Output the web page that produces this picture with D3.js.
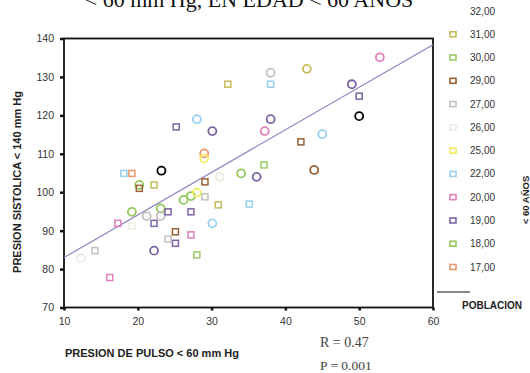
<!DOCTYPE html>
<html>
<head>
<meta charset="utf-8">
<script src="https://cdn.jsdelivr.net/npm/d3@7"></script>
<style>
  html, body { margin: 0; padding: 0; background: #fff; }
  svg { display: block; }
</style>
</head>
<body>
<div id="chart"></div>
<script>
// legend categories (top to bottom) and their marker colours
const groupLabels = ["32,00", "31,00", "30,00", "29,00", "27,00", "26,00", "25,00", "22,00", "20,00", "19,00", "18,00", "17,00"];
const groupColors = [null, "#c4bc58", "#98cc68", "#9a6234", "#c2c2ba", "#ecece4", "#f2ec60", "#98d0ee", "#e080bc", "#7c64a4", "#92c85a", "#e8946c"];

// points: pulse pressure (x), systolic pressure (y), group, marker
const pulse    = [19.2, 29.0,
                  20.2, 19.2, 23.1, 26.2, 27.2, 34.0,
                  28.0, 37.1,
                  25.2, 24.1, 27.2, 22.2, 25.1, 50.0, 22.2, 30.1, 36.1, 49.0, 38.0,
                  17.3, 27.2, 16.2, 37.2, 52.8,
                  28.0, 30.1, 45.0, 18.1, 35.1, 38.0,
                  29.0, 28.0,
                  12.3, 31.1, 19.2,
                  29.1, 24.1, 14.2, 21.2, 23.1, 38.0,
                  20.2, 29.1, 25.1, 42.1, 43.9,
                  22.2, 30.9, 32.2, 42.9,
                  23.2, 50.0];
const systolic = [104.9, 110.1,
                  101.9, 94.9, 95.8, 98.0, 99.0, 104.9,
                  83.7, 107.1,
                  117.0, 94.9, 94.9, 91.9, 86.7, 125.0, 84.8, 115.9, 104.0, 128.1, 119.0,
                  91.9, 88.9, 77.8, 115.9, 135.1,
                  119.0, 91.9, 115.1, 104.9, 96.9, 128.1,
                  108.8, 99.9,
                  82.8, 104.0, 91.2,
                  98.8, 87.8, 84.8, 93.8, 93.8, 131.1,
                  101.0, 102.7, 89.7, 113.1, 105.8,
                  101.9, 96.7, 128.1, 132.1,
                  105.6, 119.8];
const pointGroup = ["17,00", "17,00",
                    "18,00", "18,00", "18,00", "18,00", "18,00", "18,00",
                    "30,00", "30,00",
                    "19,00", "19,00", "19,00", "19,00", "19,00", "19,00", "19,00", "19,00", "19,00", "19,00", "19,00",
                    "20,00", "20,00", "20,00", "20,00", "20,00",
                    "22,00", "22,00", "22,00", "22,00", "22,00", "22,00",
                    "25,00", "25,00",
                    "26,00", "26,00", "26,00",
                    "27,00", "27,00", "27,00", "27,00", "27,00", "27,00",
                    "29,00", "29,00", "29,00", "29,00", "29,00",
                    "31,00", "31,00", "31,00", "31,00",
                    "32,00", "32,00"];
const pointShape = ["s", "c",
                    "c", "c", "c", "c", "c", "c",
                    "s", "s",
                    "s", "s", "s", "s", "s", "s", "c", "c", "c", "c", "c",
                    "s", "s", "s", "c", "c",
                    "c", "c", "c", "s", "s", "s",
                    "c", "c",
                    "c", "c", "s",
                    "s", "s", "s", "c", "c", "c",
                    "s", "s", "s", "s", "c",
                    "s", "s", "s", "c",
                    "c", "c"];

// fitted line (POBLACION), read at the two ends of the x range
const fitX = [10, 60];
const fitY = [83.0, 138.4];

const xTicks = [10, 20, 30, 40, 50, 60];
const yTicks = [70, 80, 90, 100, 110, 120, 130, 140];

const width = 530, height = 373;
const plot = { left: 64, right: 433, top: 38.5, bottom: 307.5 };
const sans = "'Liberation Sans', Arial, sans-serif";
const serif = "'Liberation Serif', 'Times New Roman', serif";

const svg = d3.select("#chart").append("svg")
  .attr("width", width)
  .attr("height", height);

svg.append("rect").attr("width", width).attr("height", height).attr("fill", "#fff");

const x = d3.scaleLinear().domain([10, 60]).range([plot.left, plot.right]);
const y = d3.scaleLinear().domain([70, 140]).range([plot.bottom, plot.top]);
const color = d3.scaleOrdinal().domain(groupLabels).range(groupColors.map(c => c || "#000"));

// title, cut at the top edge as in the scan
svg.append("text")
  .attr("x", 249).attr("y", 7)
  .attr("text-anchor", "middle")
  .attr("font-family", serif)
  .attr("font-size", 22)
  .attr("fill", "#111")
  .text("< 60 mm Hg, EN EDAD < 60 AÑOS");

// axes
const xAxis = d3.axisBottom(x).tickValues(xTicks).tickSize(3).tickFormat(d3.format("d"));
const yAxis = d3.axisLeft(y).tickValues(yTicks).tickSize(4).tickFormat(d3.format("d"));

const gx = svg.append("g").attr("transform", `translate(0,${plot.bottom})`).call(xAxis);
const gy = svg.append("g").attr("transform", `translate(${plot.left},0)`).call(yAxis);

[gx, gy].forEach(g => {
  g.select(".domain").remove();
  g.selectAll(".tick line").attr("stroke", "#111").attr("stroke-width", 2.5);
  g.selectAll(".tick text")
    .attr("font-family", sans)
    .attr("font-size", 10.5)
    .attr("fill", "#333");
});
gx.selectAll(".tick text").attr("dy", "1.05em");
gy.selectAll(".tick text").attr("x", -10);

// frame
svg.append("rect")
  .attr("x", plot.left).attr("y", plot.top)
  .attr("width", plot.right - plot.left)
  .attr("height", plot.bottom - plot.top)
  .attr("fill", "none")
  .attr("stroke", "#111")
  .attr("stroke-width", 1.8);

// fitted line
svg.append("line")
  .attr("x1", x(fitX[0])).attr("y1", y(fitY[0]))
  .attr("x2", x(fitX[1])).attr("y2", y(fitY[1]))
  .attr("stroke", "#8c86c0")
  .attr("stroke-width", 1.2);

// points
const points = pulse.map((v, i) => ({ x: v, y: systolic[i], g: pointGroup[i], s: pointShape[i] }));

svg.append("g").selectAll("circle")
  .data(points.filter(d => d.s === "c"))
  .enter().append("circle")
  .attr("cx", d => x(d.x))
  .attr("cy", d => y(d.y))
  .attr("r", 4)
  .attr("fill", "none")
  .attr("stroke", d => color(d.g))
  .attr("stroke-width", 1.8);

svg.append("g").selectAll("rect")
  .data(points.filter(d => d.s === "s"))
  .enter().append("rect")
  .attr("x", d => x(d.x) - 3)
  .attr("y", d => y(d.y) - 3)
  .attr("width", 6)
  .attr("height", 6)
  .attr("fill", "none")
  .attr("stroke", d => color(d.g))
  .attr("stroke-width", 1.5);

// legend
const legendY = d3.scalePoint().domain(groupLabels).range([11, 267]);
const legend = svg.append("g");

legend.selectAll("rect")
  .data(groupLabels.filter((d, i) => groupColors[i]))
  .enter().append("rect")
  .attr("x", 450)
  .attr("y", d => legendY(d) - 2.5)
  .attr("width", 6)
  .attr("height", 5)
  .attr("fill", "none")
  .attr("stroke", d => color(d))
  .attr("stroke-width", 1.6);

legend.selectAll("text")
  .data(groupLabels)
  .enter().append("text")
  .attr("x", 470)
  .attr("y", d => legendY(d))
  .attr("dy", "0.35em")
  .attr("font-family", sans)
  .attr("font-size", 10)
  .attr("fill", "#333")
  .text(d => d);

legend.append("line")
  .attr("x1", 437).attr("x2", 470)
  .attr("y1", 292).attr("y2", 292)
  .attr("stroke", "#111")
  .attr("stroke-width", 1.2);

legend.append("text")
  .attr("x", 462).attr("y", 309)
  .attr("font-family", sans)
  .attr("font-size", 10)
  .attr("font-weight", "bold")
  .attr("fill", "#222")
  .text("POBLACION");

// right side label at the edge
svg.append("text")
  .attr("transform", "translate(528.5,200) rotate(-90)")
  .attr("text-anchor", "middle")
  .attr("font-family", sans)
  .attr("font-size", 9.5)
  .attr("font-weight", "bold")
  .attr("fill", "#222")
  .text("< 60 AÑOS");

// axis titles
svg.append("text")
  .attr("transform", "translate(21,182) rotate(-90)")
  .attr("text-anchor", "middle")
  .attr("font-family", sans)
  .attr("font-size", 11)
  .attr("font-weight", "bold")
  .attr("fill", "#222")
  .text("PRESION SISTOLICA < 140 mm Hg");

svg.append("text")
  .attr("x", 65).attr("y", 357)
  .attr("font-family", sans)
  .attr("font-size", 11)
  .attr("font-weight", "bold")
  .attr("fill", "#222")
  .text("PRESION DE PULSO < 60 mm Hg");

// statistics
svg.append("text")
  .attr("x", 320).attr("y", 347)
  .attr("font-family", serif)
  .attr("font-size", 14)
  .attr("fill", "#444")
  .text("R = 0.47");

svg.append("text")
  .attr("x", 320).attr("y", 370)
  .attr("font-family", serif)
  .attr("font-size", 13.5)
  .attr("fill", "#444")
  .text("P = 0.001");
</script>
</body>
</html>
